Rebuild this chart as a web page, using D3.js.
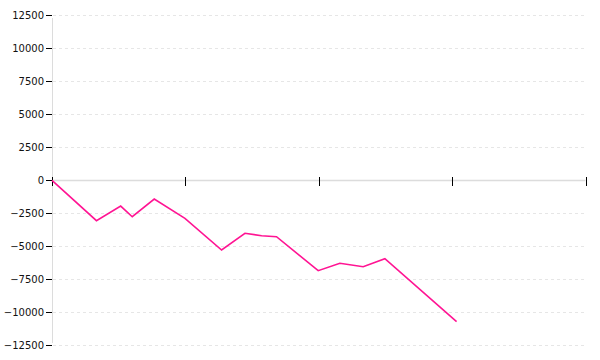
<!DOCTYPE html>
<html>
<head>
<meta charset="utf-8">
<script src="https://cdn.jsdelivr.net/npm/d3@7"></script>
<style>
  html, body { margin: 0; padding: 0; background: #fff; }
  svg { display: block; }
</style>
</head>
<body>
<svg id="chart" width="600" height="360"></svg>
<script>
// Data
const xValues = [0, 4.0, 6.18, 7.22, 9.2, 11.96, 15.26, 17.36, 18.86, 20.2, 23.95, 25.9, 28.0, 29.95, 36.4];
const yValues = [0, -3060, -1950, -2760, -1420, -2880, -5280, -4015, -4200, -4270, -6850, -6290, -6545, -5940, -10710];
const yTicks = [12500, 10000, 7500, 5000, 2500, 0, -2500, -5000, -7500, -10000, -12500];
const xTicks = [0, 12, 24, 36, 48];

const svg = d3.select("#chart");
const mLeft = 52, mRight = 585.5, mTop = 15.3, mBottom = 345.3;

const x = d3.scaleLinear().domain([0, 48]).range([mLeft, mRight]);
const y = d3.scaleLinear().domain([-12500, 12500]).range([mBottom, mTop]);

// Grid lines (dashed)
svg.append("g")
  .selectAll("line")
  .data(yTicks.filter(d => d !== 0))
  .join("line")
  .attr("x1", mLeft + 1).attr("x2", mRight)
  .attr("y1", d => Math.round(y(d)) + 0.5).attr("y2", d => Math.round(y(d)) + 0.5)
  .attr("stroke", "#e6e6e6")
  .attr("stroke-width", 1)
  .attr("shape-rendering", "crispEdges")
  .attr("stroke-dasharray", "3,3");

// Y axis
const yAxis = svg.append("g")
  .attr("transform", `translate(${mLeft},0)`)
  .call(d3.axisLeft(y).tickValues(yTicks).tickSize(6).tickPadding(2).tickFormat(d3.format("d")));
yAxis.select(".domain").remove();
yAxis.selectAll(".tick line").attr("stroke", "#000").attr("shape-rendering", "crispEdges");
yAxis.selectAll(".tick text")
  .attr("fill", "#111")
  .style("font-family", "'DejaVu Sans', Verdana, sans-serif")
  .style("font-size", "10px");
svg.append("line")
  .attr("x1", mLeft + 0.5).attr("x2", mLeft + 0.5)
  .attr("y1", mTop + 3).attr("y2", mBottom - 2)
  .attr("stroke", "#dcdcdc").attr("stroke-width", 1)
  .attr("shape-rendering", "crispEdges");

// X axis at zero
const y0 = Math.round(y(0)) + 0.5;
svg.append("line")
  .attr("x1", mLeft).attr("x2", mRight)
  .attr("y1", y0).attr("y2", y0)
  .attr("stroke", "#dcdcdc").attr("stroke-width", 1.5);
const xAxis = svg.append("g")
  .attr("transform", `translate(0,${y0})`)
  .call(d3.axisBottom(x).tickValues(xTicks).tickSize(5).tickFormat(""));
xAxis.select(".domain").remove();
xAxis.selectAll(".tick")
  .attr("transform", d => `translate(${Math.round(x(d)) + 0.5},0)`);
xAxis.selectAll(".tick line")
  .attr("y1", -4).attr("y2", 5)
  .attr("stroke", "#000")
  .attr("stroke-width", 1)
  .attr("shape-rendering", "crispEdges");

// Series line
const pts = xValues.map((d, i) => [d, yValues[i]]);
svg.append("path")
  .datum(pts)
  .attr("fill", "none")
  .attr("stroke", "#ff1493")
  .attr("stroke-width", 1.6)
  .attr("d", d3.line().x(d => x(d[0])).y(d => y(d[1])));
</script>
</body>
</html>
